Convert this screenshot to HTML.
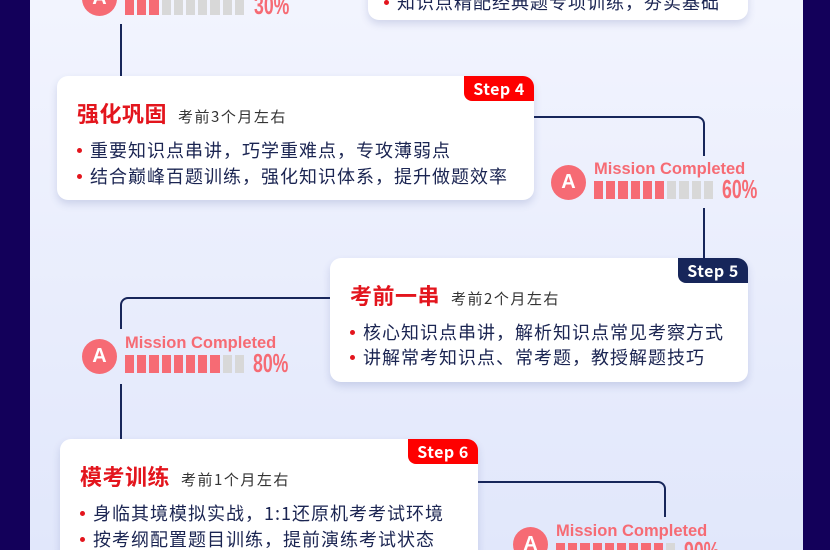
<!DOCTYPE html>
<html><head><meta charset="utf-8"><style>
*{margin:0;padding:0;box-sizing:border-box}
html{width:830px;height:550px;overflow:hidden}
body{width:830px;height:550px;overflow:hidden;position:relative;background:linear-gradient(#f2f4fe,#e1e7fb);font-family:"Liberation Sans","Noto Sans CJK SC",sans-serif}
.side{position:absolute;top:0;width:30px;height:550px;background:#13005a}
.card{position:absolute;background:#fff;border-radius:11px;box-shadow:0 4px 8px rgba(60,80,150,.18)}
.badge{position:absolute;right:0;top:0;width:70px;height:25px;border-radius:0 11px 0 8px;color:#fff;font-weight:bold;font-size:16px;line-height:25px;text-align:center;font-family:"Noto Sans CJK SC",sans-serif;letter-spacing:.5px}
.red{background:#fe0000}.navy{background:#17265a}
.title{position:absolute;left:20px;top:22px;font-family:"Noto Sans CJK SC",sans-serif;font-weight:bold;font-size:22px;line-height:30px;color:#e3151d;white-space:nowrap;letter-spacing:.5px}
.title span{font-weight:normal;font-size:15px;color:#333;margin-left:11px;letter-spacing:1.5px}
.li{position:absolute;left:20px;font-family:"Noto Sans CJK SC",sans-serif;font-size:18px;line-height:24px;color:#1b2552;white-space:nowrap;letter-spacing:1px}
.li:before{content:"";display:inline-block;width:5px;height:5px;border-radius:50%;background:#e3151d;margin-right:8px;vertical-align:middle;position:relative;top:-2px}
.ln{position:absolute;border-color:#17265a;border-style:solid;border-width:0}
.mc{position:absolute;width:210px;height:42px}
.mc .c{position:absolute;left:0;top:5px;width:35px;height:35px;border-radius:50%;background:#f66b74;color:#fff;font-weight:bold;font-size:20px;line-height:35px;text-align:center}
.mc .t{position:absolute;left:26px;top:0px;color:#f66b74;font-weight:bold;font-size:16.5px;white-space:nowrap}
.mc .bars{position:absolute;left:25px;top:21px;height:18px;display:flex;gap:3px}
.mc .bars i{display:block;width:9.2px;height:18px;background:#f66b74}
.mc .bars i.g{background:#d8d8d8}
.mc .p{position:absolute;left:154px;top:14px;color:#f66b74;font-weight:bold;font-size:26px;transform:scaleX(.68);transform-origin:left}
</style></head><body>
<div class="side" style="left:0"></div><div class="side" style="left:803px;width:27px"></div>

<div class="mc" style="left:82px;top:-24px"><div class="c">A</div><div class="bars" style="left:43px"><i></i><i></i><i></i><i class="g"></i><i class="g"></i><i class="g"></i><i class="g"></i><i class="g"></i><i class="g"></i><i class="g"></i></div><div class="p" style="left:172px">30%</div></div>
<div class="card" style="left:368px;top:-40px;width:380px;height:60px"><div class="li" style="top:30px;left:16px">知识点精配经典题专项训练，夯实基础</div></div>

<div class="ln" style="left:120px;top:24px;height:52px;border-left-width:2px"></div>

<div class="ln" style="left:534px;top:116px;width:171px;height:40px;border-top-width:2px;border-right-width:2px;border-top-right-radius:8px"></div>
<div class="ln" style="left:703px;top:208px;height:52px;border-left-width:2px"></div>
<div class="card" style="left:57px;top:76px;width:477px;height:124px">
<div class="badge red">Step 4</div>
<div class="title">强化巩固<span>考前3个月左右</span></div>
<div class="li" style="top:62px">重要知识点串讲，巧学重难点，专攻薄弱点</div>
<div class="li" style="top:88px">结合巅峰百题训练，强化知识体系，提升做题效率</div>
</div>
<div class="mc" style="left:551px;top:160px"><div class="c">A</div><div class="t" style="left:43px">Mission Completed</div><div class="bars" style="left:43px"><i></i><i></i><i></i><i></i><i></i><i></i><i class="g"></i><i class="g"></i><i class="g"></i><i class="g"></i></div><div class="p" style="left:171px">60%</div></div>

<div class="ln" style="left:120px;top:297px;width:212px;height:32px;border-top-width:2px;border-left-width:2px;border-top-left-radius:8px"></div>
<div class="ln" style="left:120px;top:384px;height:56px;border-left-width:2px"></div>
<div class="card" style="left:330px;top:258px;width:418px;height:124px">
<div class="badge navy">Step 5</div>
<div class="title">考前一串<span>考前2个月左右</span></div>
<div class="li" style="top:62px">核心知识点串讲，解析知识点常见考察方式</div>
<div class="li" style="top:87px">讲解常考知识点、常考题，教授解题技巧</div>
</div>
<div class="mc" style="left:82px;top:334px"><div class="c">A</div><div class="t" style="left:43px">Mission Completed</div><div class="bars" style="left:43px"><i></i><i></i><i></i><i></i><i></i><i></i><i></i><i></i><i class="g"></i><i class="g"></i></div><div class="p" style="left:171px">80%</div></div>

<div class="ln" style="left:478px;top:481px;width:188px;height:36px;border-top-width:2px;border-right-width:2px;border-top-right-radius:8px"></div>
<div class="card" style="left:60px;top:439px;width:418px;height:125px">
<div class="badge red">Step 6</div>
<div class="title">模考训练<span>考前1个月左右</span></div>
<div class="li" style="top:62px">身临其境模拟实战，1:1还原机考考试环境</div>
<div class="li" style="top:88px">按考纲配置题目训练，提前演练考试状态</div>
</div>
<div class="mc" style="left:513px;top:522px"><div class="c">A</div><div class="t" style="left:43px">Mission Completed</div><div class="bars" style="left:43px"><i></i><i></i><i></i><i></i><i></i><i></i><i></i><i></i><i></i><i class="g"></i></div><div class="p" style="left:171px">90%</div></div>
</body></html>
